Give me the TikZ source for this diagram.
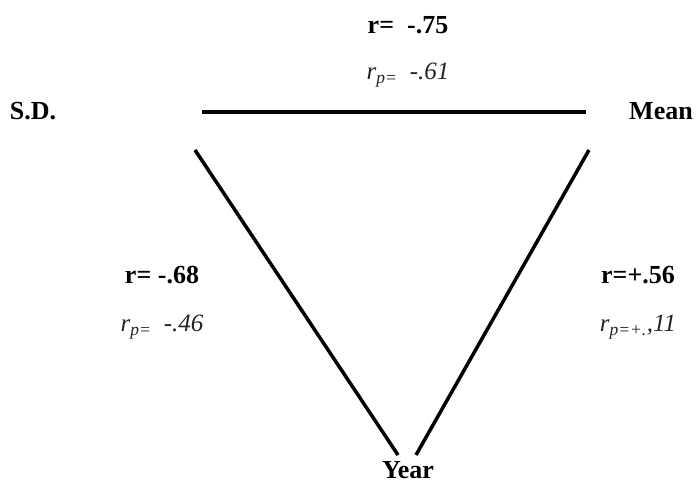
\documentclass[tikz,border=0pt]{standalone}
\usepackage{fontspec}
\setmainfont{Liberation Serif}
\usetikzlibrary{positioning}
\definecolor{CoefGray}{RGB}{35, 35, 35}

\begin{document}
\begin{tikzpicture}[
    x=1pt, y=-1pt,
    vertex/.style={font=\fontsize{26}{30}\selectfont\bfseries, inner sep=0pt},
    rlabel/.style={font=\fontsize{26}{30}\selectfont\bfseries, inner sep=0pt},
    rplabel/.style={font=\fontsize{25}{29}\selectfont\itshape, text=CoefGray, inner sep=0pt},
    edge/.style={line width=3.5pt}
]
\useasboundingbox (0,0) rectangle (697,484);
\node[vertex] (sd) at (33,111) {S.D.};
\node[vertex] (mean) at (661,111) {Mean};
\node[vertex] (year) at (408,470) {Year};
% triangle sides
\coordinate (topL) at (202,112);
\coordinate (topR) at (586,112);
\coordinate (leftT) at (195,150);
\coordinate (leftB) at (398,455);
\coordinate (rightT) at (589,150);
\coordinate (rightB) at (416,455);
\draw[edge] (topL) -- (topR);
\draw[edge] (leftT) -- (leftB);
\draw[edge] (rightT) -- (rightB);
% coefficients
\node[rlabel] (rtop) at (408,25) {r=\ \ -.75};
\node[rplabel, below=29pt of rtop] (rptop) {r\textsubscript{p=}\ \ -.61};
\node[rlabel] (rleft) at (162,275) {r= -.68};
\node[rplabel, below=31pt of rleft] (rpleft) {r\textsubscript{p=}\ \ -.46};
\node[rlabel] (rright) at (638,275) {r=+.56};
\node[rplabel, below=31pt of rright] (rpright) {r\textsubscript{p=+.},11};
\end{tikzpicture}
\end{document}
